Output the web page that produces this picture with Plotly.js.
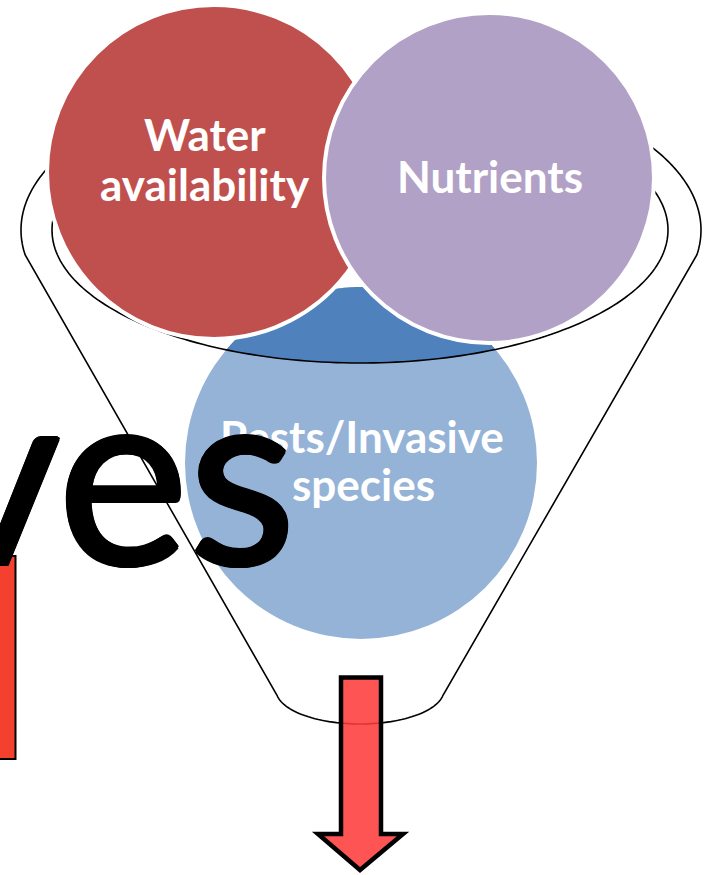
<!DOCTYPE html>
<html>
<head>
<meta charset="utf-8">
<script src="https://cdn.plot.ly/plotly-3.0.1.min.js"></script>
<style>html,body{margin:0;padding:0;background:#fff;}#chart{width:708px;height:875px;}</style>
</head>
<body>
<div id="chart"></div>
<script>
// ---- content (text) ----
const categories = ['Water availability', 'Nutrients', 'Pests/Invasive species'];
const categoryLines = [['Water', 'availability'], ['Nutrients'], ['Pests/Invasive', 'species']];
const backgroundWord = 'ves';

// ---- layout / geometry (pixels of the 708x875 canvas) ----
const W = 708, H = 875;
const circleGeom = [
  {cx: 214, cy: 172, r: 167, color: '#C0504D'},
  {cx: 489, cy: 178, r: 165, color: '#B2A1C7'},
  {cx: 361, cy: 463, r: 176, color: '#95B3D7'}
];
const darkBlue = '#4F81BD';
const outerRim = {cx: 361, cy: 230, rx: 340, ry: 160};
const innerRim = {cx: 360, cy: 230, rx: 308, ry: 133};
const spout = {cx: 360, cy: 690, rx: 84, ry: 34};
const labelPos = [
  [{x: 205, y: 134}, {x: 205, y: 184}],
  [{x: 490, y: 176}],
  [{x: 362, y: 436}, {x: 363, y: 484}]
];
const labelSize = 44;

function arcPts(e, t0, t1, n) {
  const pts = [];
  for (let i = 0; i <= n; i++) {
    const t = t0 + (t1 - t0) * i / n;
    pts.push([e.cx + e.rx * Math.cos(t), e.cy + e.ry * Math.sin(t)]);
  }
  return pts;
}
function toPath(pts, close) {
  return pts.map((p, i) => (i ? 'L' : 'M') + p[0].toFixed(2) + ',' + p[1].toFixed(2)).join(' ') + (close ? ' Z' : '');
}

// funnel outline: outer rim left -> cone -> spout -> cone -> outer rim right
const tj = 0.157;
let funnel = [];
funnel = funnel.concat(arcPts(outerRim, Math.PI + 0.481, Math.PI - tj, 60));
funnel = funnel.concat(arcPts(spout, Math.PI - 0.156, 0.156, 60));
funnel = funnel.concat(arcPts(outerRim, tj, -0.609, 60));

// inner rim (visible lower part)
const innerArc = arcPts(innerRim, Math.PI + 0.345, -0.385, 160);

// dark region = blue circle ∩ inner rim ellipse
const bc = circleGeom[2];
const inEll = (x, y, e) => ((x - e.cx) / e.rx) ** 2 + ((y - e.cy) / e.ry) ** 2 <= 1;
const inCirc = (x, y, c) => (x - c.cx) ** 2 + (y - c.cy) ** 2 <= c.r * c.r;
let reg = [];
for (let i = 0; i < 720; i++) {
  const t = 2 * Math.PI * i / 720;
  const cxp = bc.cx + bc.r * Math.cos(t), cyp = bc.cy + bc.r * Math.sin(t);
  if (inEll(cxp, cyp, innerRim)) reg.push([cxp, cyp]);
  const ex = innerRim.cx + innerRim.rx * Math.cos(t), ey = innerRim.cy + innerRim.ry * Math.sin(t);
  if (inCirc(ex, ey, bc)) reg.push([ex, ey]);
}
const mx = reg.reduce((s, p) => s + p[0], 0) / reg.length;
const my = reg.reduce((s, p) => s + p[1], 0) / reg.length;
reg.sort((a, b) => Math.atan2(a[1] - my, a[0] - mx) - Math.atan2(b[1] - my, b[0] - mx));

const arrowPath = 'M341,677.5 L381,677.5 L381,834 L403,834 L360,870 L318,834 L341,834 Z';

const shapes = [
  {type: 'rect', xref: 'x', yref: 'y', x0: -10, x1: 15.5, y0: 556, y1: 759,
   fillcolor: '#F4402F', line: {color: '#000', width: 2}},
  {type: 'path', xref: 'x', yref: 'y', path: toPath(funnel, false), line: {color: '#000', width: 1.6}},
  {type: 'circle', xref: 'x', yref: 'y', x0: bc.cx - bc.r, x1: bc.cx + bc.r, y0: bc.cy - bc.r, y1: bc.cy + bc.r,
   fillcolor: bc.color, line: {width: 0}},
  {type: 'path', xref: 'x', yref: 'y', path: toPath(reg, true), fillcolor: darkBlue, line: {width: 0}},
  {type: 'path', xref: 'x', yref: 'y', path: toPath(innerArc, false), line: {color: '#000', width: 1.6}},
];
[0, 1].forEach(i => {
  const c = circleGeom[i];
  shapes.push({type: 'circle', xref: 'x', yref: 'y', x0: c.cx - c.r, x1: c.cx + c.r, y0: c.cy - c.r, y1: c.cy + c.r,
    fillcolor: c.color, line: {color: '#fff', width: 4}});
});
shapes.push({type: 'path', xref: 'x', yref: 'y', path: arrowPath,
  fillcolor: 'rgba(255,60,60,0.88)', line: {color: '#000', width: 4.5}});

const annotations = [];
categoryLines.forEach((lines, i) => {
  lines.forEach((ln, j) => {
    annotations.push({x: labelPos[i][j].x, y: labelPos[i][j].y, xref: 'x', yref: 'y', text: ln, showarrow: false,
      xanchor: 'center', yanchor: 'middle',
      font: {family: 'Lato', size: labelSize, color: '#fff', weight: 700}});
  });
});
annotations.push({x: 298, y: 468, xref: 'x', yref: 'y', text: backgroundWord, showarrow: false,
  xanchor: 'right', yanchor: 'middle',
  font: {family: 'Lato', size: 248, color: '#000',
         shadow: '2px 0 0 #000, -2px 0 0 #000, 0 2px 0 #000, 0 -2px 0 #000, 1.5px 1.5px 0 #000, -1.5px -1.5px 0 #000, 1.5px -1.5px 0 #000, -1.5px 1.5px 0 #000'}});

const layout = {
  width: W, height: H, margin: {l: 0, r: 0, t: 0, b: 0},
  paper_bgcolor: '#fff', plot_bgcolor: '#fff', showlegend: false,
  xaxis: {range: [0, W], visible: false, fixedrange: true},
  yaxis: {range: [H, 0], visible: false, fixedrange: true},
  shapes: shapes, annotations: annotations
};
Plotly.newPlot('chart', [], layout, {staticPlot: true, displayModeBar: false});
</script>
</body>
</html>
